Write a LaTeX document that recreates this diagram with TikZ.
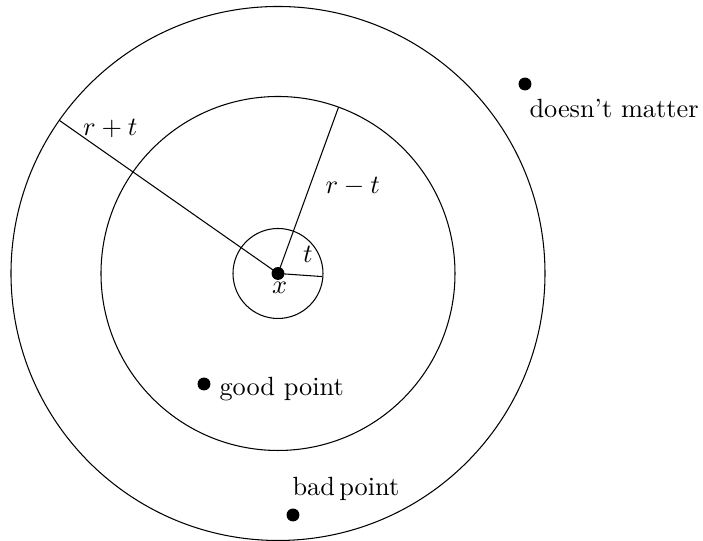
\documentclass[tikz,border=0pt]{standalone}
\begin{document}
\begin{tikzpicture}[x=0.38pt,y=0.38pt,
  ring/.style={draw,line width=0.4pt},
  dot/.style={circle,fill=black,inner sep=0pt,minimum size=4.9pt},
  lbl/.style={anchor=base west,inner sep=0pt}]
\useasboundingbox (-278,-267.5) rectangle (425,273.5);
% circles
\draw[ring] (0,0) circle (267);
\draw[ring] (0,0) circle (177);
\draw[ring] (0,0) circle (45);
% centre point
\node[dot] (C) at (0,0) {};
\coordinate (A) at (145:267);
\coordinate (B) at (70:177);
\coordinate (T) at (-4:44.5);
\draw[ring] (C.center) -- (A);
\draw[ring] (C.center) -- (B);
\draw[ring] (C.center) -- (T);
% labels
\node[lbl] (lA) at (-195.3,137.5) {$r+t$};
\node[lbl] (lB) at (47,80.2) {$r-t$};
\node[lbl] (lT) at (24.7,10.8) {$t$};
\node[lbl] (lx) at (-6.3,-20.5) {$x$};
% points
\node[dot] (D) at (247,189.5) {};
\node[lbl] (lD) at (251,156.2) {doesn't matter};
\node[dot] (G) at (-74,-110.5) {};
\node[lbl] (lG) at (-59,-122.5) {good point};
\node[dot] (P) at (15,-241.5) {};
\node[lbl] (lP) at (14,-222.5) {bad\,point};
\end{tikzpicture}
\end{document}
